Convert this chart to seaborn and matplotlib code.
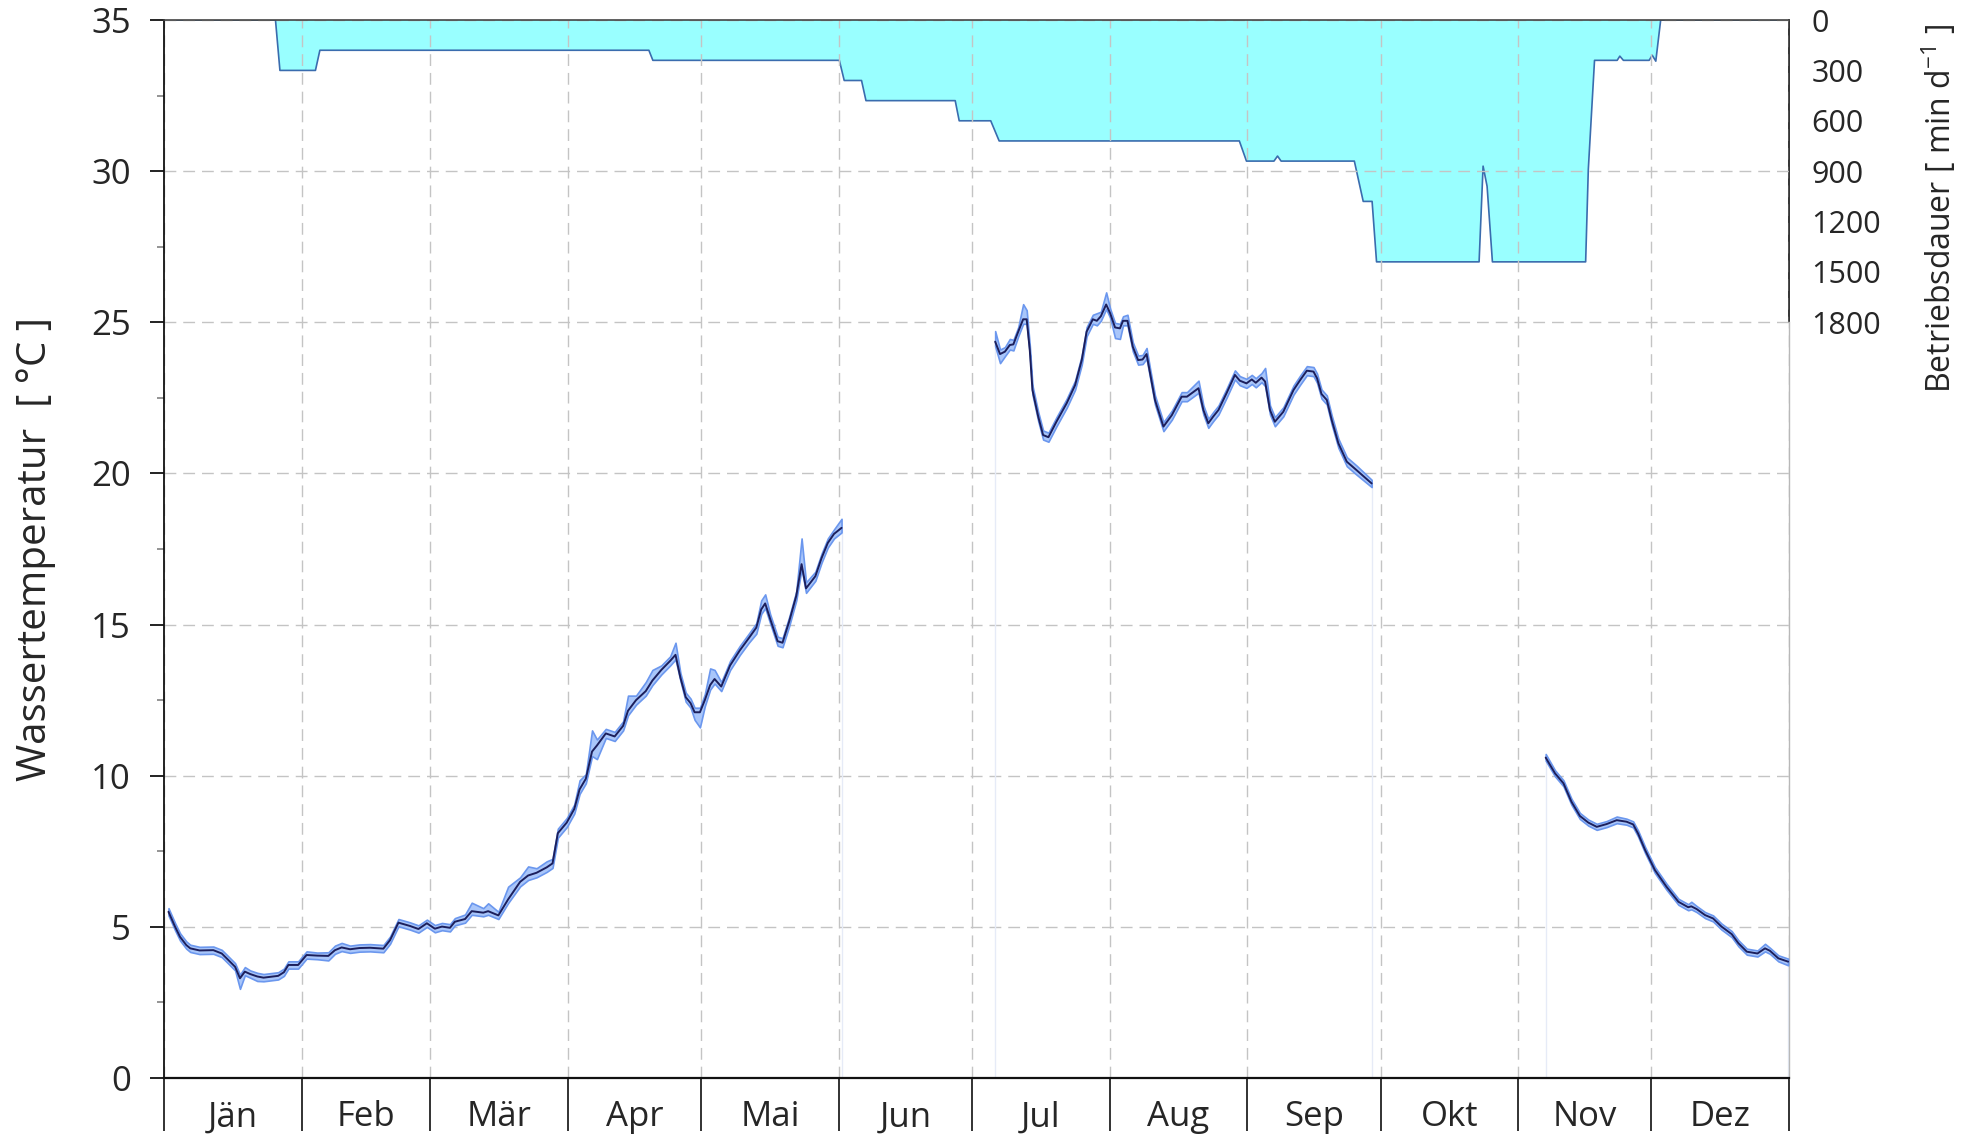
import matplotlib
matplotlib.use("Agg")
import numpy as np
import pandas as pd
import matplotlib.pyplot as plt
from matplotlib.ticker import FixedLocator, NullFormatter
import seaborn as sns

# Tage (Schaltjahr) und Monatsnamen
monats_grenzen = [0, 31, 60, 91, 121, 152, 182, 213, 244, 274, 305, 335, 366]
monate = ["Jän", "Feb", "Mär", "Apr", "Mai", "Jun", "Jul", "Aug", "Sep", "Okt", "Nov", "Dez"]

# Wassertemperatur, Abschnitt Jänner - Mai
tag_a = [1.0, 2.5, 3.6, 5.0, 5.9, 8.0, 11.1, 13.0, 14.1, 16.0, 17.1, 18.2, 19.4, 21.0, 22.4,
         25.7, 27.0, 28.0, 30.2, 32.1, 34.5, 37.0, 38.5, 40.0, 41.9, 44.0, 46.4, 49.4, 50.9,
         52.8, 55.4, 57.3, 59.2, 61.0, 62.6, 64.4, 65.5, 67.8, 69.3, 71.9, 73.0, 75.3, 77.5,
         80.2, 82.0, 83.9, 86.2, 87.5, 88.7, 90.7, 92.4, 93.6, 95.0, 96.4, 97.5, 99.5, 101.5,
         103.4, 104.5, 106.3, 108.5, 110.0, 112.0, 114.0, 115.2, 116.3, 117.5, 118.6, 119.5,
         120.7, 121.8, 123.0, 124.0, 125.5, 127.5, 129.7, 131.7, 133.4, 134.5, 135.4, 136.5,
         138.2, 139.3, 140.8, 142.4, 143.6, 144.6, 146.7, 148.1, 149.5, 150.9, 152.6]
temp_a = [5.50, 5.00, 4.67, 4.40, 4.29, 4.22, 4.23, 4.12, 3.96, 3.68, 3.30, 3.52, 3.44, 3.36, 3.32,
          3.38, 3.50, 3.74, 3.74, 4.07, 4.05, 4.04, 4.23, 4.32, 4.26, 4.30, 4.31, 4.28, 4.56,
          5.14, 5.03, 4.93, 5.12, 4.94, 5.01, 4.97, 5.17, 5.26, 5.52, 5.47, 5.52, 5.38, 5.91,
          6.49, 6.70, 6.79, 6.97, 7.10, 8.10, 8.45, 8.90, 9.55, 9.90, 10.80, 11.00, 11.40, 11.30,
          11.65, 12.15, 12.50, 12.80, 13.15, 13.50, 13.80, 14.00, 13.25, 12.60, 12.40, 12.10,
          12.10, 12.50, 13.00, 13.20, 12.95, 13.65, 14.15, 14.55, 14.90, 15.50, 15.70, 15.20,
          14.45, 14.40, 15.10, 15.95, 17.00, 16.20, 16.60, 17.20, 17.70, 18.00, 18.20]
band_oben_a = [0.12, 0.12, 0.12, 0.12, 0.12, 0.12, 0.12, 0.12, 0.12, 0.12, 0.12, 0.15, 0.12, 0.12, 0.12,
               0.12, 0.12, 0.12, 0.12, 0.12, 0.10, 0.12, 0.15, 0.15, 0.12, 0.12, 0.12, 0.12, 0.12,
               0.12, 0.12, 0.12, 0.12, 0.12, 0.12, 0.12, 0.12, 0.15, 0.28, 0.15, 0.26, 0.12, 0.42,
               0.15, 0.30, 0.15, 0.20, 0.15, 0.15, 0.15, 0.15, 0.30, 0.15, 0.70, 0.20, 0.15, 0.15,
               0.15, 0.50, 0.15, 0.30, 0.35, 0.15, 0.15, 0.40, 0.15, 0.15, 0.15, 0.15,
               0.15, 0.20, 0.55, 0.30, 0.15, 0.15, 0.15, 0.15, 0.15, 0.30, 0.30, 0.15,
               0.15, 0.15, 0.15, 0.15, 0.85, 0.20, 0.15, 0.15, 0.15, 0.15, 0.30]
band_unten_a = [0.12, 0.12, 0.12, 0.12, 0.12, 0.12, 0.12, 0.12, 0.12, 0.12, 0.35, 0.12, 0.12, 0.15, 0.12,
                0.12, 0.12, 0.12, 0.12, 0.12, 0.12, 0.15, 0.12, 0.12, 0.12, 0.12, 0.12, 0.12, 0.12,
                0.12, 0.12, 0.12, 0.12, 0.12, 0.12, 0.12, 0.12, 0.12, 0.12, 0.12, 0.12, 0.12, 0.12,
                0.15, 0.15, 0.15, 0.15, 0.15, 0.15, 0.15, 0.15, 0.15, 0.15, 0.15, 0.45, 0.15, 0.15,
                0.15, 0.15, 0.15, 0.15, 0.15, 0.15, 0.15, 0.15, 0.10, 0.15, 0.15, 0.25,
                0.50, 0.20, 0.15, 0.15, 0.15, 0.15, 0.15, 0.15, 0.20, 0.15, 0.15, 0.15,
                0.15, 0.15, 0.15, 0.15, 0.15, 0.15, 0.15, 0.15, 0.15, 0.15, 0.15]

# Abschnitt Juli - September
tag_b = [187.2, 188.3, 189.4, 190.5, 191.3, 192.4, 193.5, 194.3, 195.0, 195.6, 196.9, 198.0, 199.2,
         201.0, 203.3, 205.2, 206.7, 207.8, 209.2, 210.1, 211.0, 212.2, 213.1, 214.2, 215.3, 216.0,
         217.0, 218.2, 219.4, 220.4, 221.3, 222.1, 223.2, 225.1, 227.0, 229.2, 230.4, 233.0, 234.1,
         235.2, 236.3, 237.5, 239.3, 241.2, 242.3, 243.8, 245.0, 245.9, 247.2, 248.0, 249.1, 250.2,
         252.1, 254.4, 255.9, 257.4, 258.9, 259.7, 260.7, 261.9, 263.0, 264.5, 266.4, 268.6, 272.0]
temp_b = [24.36, 23.95, 24.03, 24.25, 24.27, 24.69, 25.10, 25.10, 24.08, 22.76, 21.88, 21.27, 21.20,
          21.71, 22.32, 22.92, 23.75, 24.69, 25.10, 25.05, 25.20, 25.59, 25.30, 24.83, 24.80, 25.05,
          25.05, 24.19, 23.75, 23.77, 23.95, 23.31, 22.43, 21.55, 21.93, 22.54, 22.54, 22.82, 22.10,
          21.66, 21.88, 22.10, 22.65, 23.26, 23.07, 22.98, 23.11, 23.00, 23.17, 23.04, 22.10, 21.71,
          22.04, 22.76, 23.09, 23.40, 23.37, 23.15, 22.63, 22.43, 21.77, 21.00, 20.39, 20.11, 19.67]
band_oben_b = [0.35, 0.15, 0.15, 0.20, 0.15, 0.15, 0.50, 0.30, 0.15, 0.15, 0.15, 0.15, 0.15,
               0.15, 0.15, 0.15, 0.15, 0.15, 0.15, 0.25, 0.15, 0.40, 0.15, 0.15, 0.15, 0.15,
               0.20, 0.15, 0.15, 0.15, 0.20, 0.15, 0.15, 0.15, 0.15, 0.15, 0.15, 0.25, 0.15,
               0.15, 0.15, 0.15, 0.15, 0.15, 0.15, 0.15, 0.15, 0.15, 0.15, 0.45, 0.15, 0.15,
               0.15, 0.15, 0.15, 0.15, 0.15, 0.15, 0.15, 0.15, 0.15, 0.15, 0.15, 0.15, 0.12]
band_unten_b = [0.15, 0.30, 0.15, 0.15, 0.20, 0.15, 0.15, 0.15, 0.15, 0.15, 0.15, 0.15, 0.15,
                0.15, 0.15, 0.15, 0.15, 0.15, 0.15, 0.15, 0.15, 0.15, 0.15, 0.35, 0.35, 0.15,
                0.15, 0.15, 0.15, 0.15, 0.15, 0.15, 0.15, 0.15, 0.15, 0.15, 0.15, 0.15, 0.15,
                0.15, 0.15, 0.15, 0.15, 0.15, 0.15, 0.15, 0.15, 0.15, 0.15, 0.15, 0.15, 0.15,
                0.15, 0.15, 0.15, 0.15, 0.15, 0.15, 0.15, 0.15, 0.15, 0.15, 0.15, 0.15, 0.12]

# Abschnitt November - Dezember
tag_c = [311.2, 313.3, 315.2, 317.0, 318.9, 320.8, 322.7, 324.9, 327.2, 329.4, 330.9, 332.0, 333.6,
         335.8, 338.4, 341.1, 343.3, 344.0, 345.2, 347.1, 348.9, 350.8, 353.1, 354.6, 356.5, 358.9,
         360.6, 361.7, 363.6, 365.8]
temp_c = [10.60, 10.08, 9.75, 9.14, 8.67, 8.45, 8.31, 8.40, 8.53, 8.48, 8.39, 8.09, 7.54,
          6.88, 6.33, 5.83, 5.65, 5.68, 5.59, 5.39, 5.28, 5.01, 4.76, 4.46, 4.18, 4.12,
          4.29, 4.21, 3.96, 3.85]
band_oben_c = [0.12, 0.10, 0.10, 0.10, 0.10, 0.10, 0.10, 0.10, 0.12, 0.10, 0.10, 0.10, 0.10,
               0.10, 0.10, 0.10, 0.10, 0.15, 0.10, 0.10, 0.10, 0.10, 0.10, 0.10, 0.10, 0.10,
               0.15, 0.10, 0.10, 0.10]
band_unten_c = [0.10, 0.10, 0.10, 0.10, 0.10, 0.10, 0.10, 0.10, 0.10, 0.10, 0.10, 0.10, 0.10,
                0.10, 0.10, 0.10, 0.10, 0.10, 0.10, 0.10, 0.10, 0.10, 0.10, 0.10, 0.10, 0.10,
                0.10, 0.10, 0.10, 0.12]

# Betriebsdauer [min/d]
tag_bd = [0, 25.1, 26.1, 34.1, 35.1, 109.2, 110.1, 152.1, 153.2, 157.1, 158.1, 178.2, 179.1,
          186.2, 188.1, 242.2, 243.8, 250.0, 250.8, 251.6, 268.1, 270.1, 272.1, 273.1, 296.2,
          297.1, 298.0, 299.2, 320.2, 320.8, 322.2, 327.3, 327.9, 328.7, 334.5, 335.2, 336.0,
          337.1, 366]
betrieb_min = [0, 0, 300, 300, 180, 180, 240, 240, 360, 360, 480, 480, 600,
               600, 720, 720, 840, 840, 810, 840, 840, 1080, 1080, 1440, 1440,
               870, 990, 1440, 1440, 890, 240, 240, 215, 240, 240, 210, 245,
               0, 0]

sns.set_style("white")
plt.rcParams["font.family"] = ["Open Sans", "DejaVu Sans"]

fig, ax = plt.subplots(figsize=(19.67, 11.38), dpi=100)
fig.subplots_adjust(left=0.0834, right=0.9095, top=0.9824, bottom=0.0527)
ax2 = ax.twinx()

# Betriebsdauer als Flaeche von oben
ax2.fill_between(tag_bd, 0, betrieb_min, facecolor="#99ffff", edgecolor="none", zorder=1)
sns.lineplot(x=tag_bd, y=betrieb_min, ax=ax2, color="#3a6cae", linewidth=1.2, sort=False, zorder=2)
ax2.set_ylim(6300, 0)
ax2.set_yticks([0, 300, 600, 900, 1200, 1500, 1800])
ax2.tick_params(axis="y", right=True, length=0, pad=16, labelsize=22)
ax2.set_ylabel("Betriebsdauer [ min d$^{\\mathregular{-1}}$ ]", fontsize=23)
ax2.yaxis.set_label_coords(1.081, 0.822)
for s in ["left", "top", "bottom"]:
    ax2.spines[s].set_visible(False)
ax2.spines["right"].set_bounds(0, 1800)
ax2.spines["right"].set_color("#222222")
ax2.spines["right"].set_linewidth(1.3)

# Temperatur-Achse oben drauf
ax.set_zorder(ax2.get_zorder() + 1)
ax.patch.set_visible(False)

segmente = [
    (tag_a, temp_a, band_oben_a, band_unten_a),
    (tag_b, temp_b, band_oben_b, band_unten_b),
    (tag_c, temp_c, band_oben_c, band_unten_c),
]
for i, (tage, temp, oben, unten) in enumerate(segmente):
    tage = np.array(tage)
    temp = np.array(temp)
    if i > 0:
        ax.vlines(tage[0], 0, temp[0], color="#e6ebf7", linewidth=1, zorder=2)
    ax.vlines(tage[-1], 0, temp[-1], color="#e6ebf7", linewidth=1, zorder=2)
    ax.fill_between(tage, temp - np.array(unten), temp + np.array(oben),
                    facecolor="#a9c6fa", edgecolor="#6b97ee", linewidth=1.2, zorder=3)
    df = pd.DataFrame({"tag": tage, "temp": temp})
    sns.lineplot(data=df, x="tag", y="temp", ax=ax, color="#1c1f5c", linewidth=1.4, sort=False, zorder=4)

ax.set_xlim(0, 366)
ax.set_ylim(0, 35)

# x-Achse: Monatsgrenzen als lange Striche, Namen in der Mitte
ax.xaxis.set_major_locator(FixedLocator(monats_grenzen))
ax.xaxis.set_major_formatter(NullFormatter())
mitten = [(monats_grenzen[i] + monats_grenzen[i + 1]) / 2 for i in range(12)]
ax.xaxis.set_minor_locator(FixedLocator(mitten))
ax.set_xticklabels(monate, minor=True)
ax.tick_params(axis="x", which="major", bottom=True, length=38, width=1.3, color="#222222", direction="out")
ax.tick_params(axis="x", which="minor", bottom=True, length=0, pad=16, labelsize=25)

ax.set_yticks(range(0, 36, 5))
ax.yaxis.set_minor_locator(FixedLocator(np.arange(2.5, 35, 5)))
ax.tick_params(axis="y", which="major", left=True, length=10, width=1.3, color="#111111", pad=14, labelsize=25)
ax.tick_params(axis="y", which="minor", left=True, length=5, width=1.1, color="#777777")
ax.set_xlabel("")
ax.set_ylabel("Wassertemperatur  [ °C ]", fontsize=29, labelpad=25)

ax.grid(True, which="major", axis="both", color="#c4c4c4", linewidth=1.0, linestyle=(0, (8.5, 5)))

ax.spines["left"].set_color("#111111")
ax.spines["left"].set_linewidth(1.3)
ax.spines["bottom"].set_color("#111111")
ax.spines["bottom"].set_linewidth(1.6)
ax.spines["top"].set_color("#444444")
ax.spines["top"].set_linewidth(1.2)
ax.spines["right"].set_color("#b8b8b8")
ax.spines["right"].set_linewidth(1.0)
ax.spines["right"].set_bounds(0, 25)

plt.savefig("out.png", dpi=100)
plt.close()
